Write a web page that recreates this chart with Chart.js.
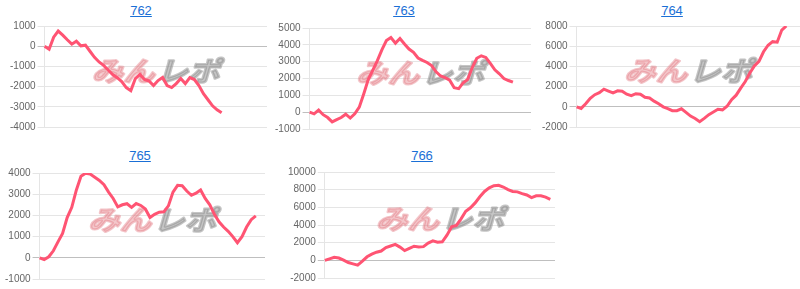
<!DOCTYPE html>
<html>
<head>
<meta charset="utf-8">
<script src="https://cdn.jsdelivr.net/npm/chart.js@4.4.1/dist/chart.umd.min.js"></script>
<style>
  body { margin: 0; background: #fff; width: 800px; height: 289px; overflow: hidden; position: relative; }
  .box { position: absolute; }
  .ttl { position: absolute; font: 13px "Liberation Sans", Arial, sans-serif; color: #1a6fd6; text-decoration: underline; transform: translateX(-50%); white-space: nowrap; }
</style>
</head>
<body>
<a class="ttl" style="left:141px;top:3px" href="#">762</a>
<a class="ttl" style="left:404px;top:3px" href="#">763</a>
<a class="ttl" style="left:672px;top:3px" href="#">764</a>
<a class="ttl" style="left:140px;top:148px" href="#">765</a>
<a class="ttl" style="left:422px;top:148px" href="#">766</a>

<div class="box" style="left:8px;top:18px;width:259px;height:117px"><canvas id="c762"></canvas></div>
<div class="box" style="left:273px;top:20px;width:258px;height:117px"><canvas id="c763"></canvas></div>
<div class="box" style="left:540px;top:18px;width:260px;height:117px"><canvas id="c764"></canvas></div>
<div class="box" style="left:3px;top:165px;width:262px;height:122px"><canvas id="c765"></canvas></div>
<div class="box" style="left:286px;top:164px;width:269px;height:122px"><canvas id="c766"></canvas></div>

<script>
// 50 slots along the (hidden) x axis, same for every machine
slots = [];
for (let i = 1; i <= 50; i++) slots.push(i);

const diff762 = [0, -150, 450, 750, 550, 320, 100, 250, 20, 50,
  -250, -550, -780, -950, -1180, -1400, -1560, -1750, -2050, -2200,
  -1600, -1400, -1650, -1720, -1950, -1700, -1550, -1950, -2050, -1850,
  -1600, -1850, -1550, -1650, -1950, -2350, -2650, -2950, -3150, -3300];

const diff763 = [0, -100, 120, -150, -320, -580, -440, -320, -120, -350,
  -100, 300, 1100, 1950, 2500, 3060, 3700, 4250, 4430, 4100,
  4380, 4050, 3750, 3550, 3220, 3080, 2950, 2770, 2400, 2150,
  2050, 1900, 1450, 1400, 1750, 1950, 2650, 3200, 3350, 3250,
  2900, 2520, 2280, 2000, 1880, 1780];

const diff764 = [0, -160, 300, 850, 1200, 1400, 1750, 1560, 1380, 1580,
  1550, 1250, 1100, 1300, 1250, 950, 880, 560, 300, 0,
  -180, -380, -380, -200, -550, -920, -1150, -1480, -1150, -780,
  -520, -250, -300, 50, 700, 1150, 1850, 2500, 3350, 4050,
  4500, 5450, 6100, 6450, 6400, 7600, 8000];

const diff765 = [0, -80, 50, 330, 750, 1150, 1900, 2380, 3200, 3850,
  3990, 3950, 3800, 3650, 3450, 3100, 2800, 2400, 2500, 2550,
  2380, 2560, 2470, 2300, 1900, 2050, 2150, 2170, 2450, 3100,
  3420, 3400, 3150, 2950, 3050, 3200, 2800, 2500, 2050, 1700,
  1450, 1250, 1000, 710, 1000, 1450, 1800, 1980];

const diff766 = [0, 170, 350, 260, 30, -250, -400, -550, -100, 400,
  700, 920, 1050, 1450, 1620, 1800, 1500, 1100, 1350, 1600,
  1500, 1550, 1950, 2200, 2050, 2100, 2850, 3800, 3950, 4700,
  5550, 5950, 6500, 7200, 7800, 8200, 8450, 8500, 8300, 8000,
  7800, 7750, 7550, 7400, 7100, 7300, 7300, 7150, 6900];

// y axis: min, max, step
const axis762 = [-4000, 1000, 1000];
const axis763 = [-1000, 5000, 1000];
const axis764 = [-2000, 8000, 2000];
const axis765 = [-1000, 4000, 1000];
const axis766 = [-2000, 10000, 2000];

Chart.defaults.font.family = '"Liberation Sans", Arial, sans-serif';
Chart.defaults.font.size = 10;
Chart.defaults.color = '#666';

// site logo behind the line
const logo = {
  id: 'logo',
  beforeDatasetsDraw(chart) {
    const a = chart.chartArea;
    const c = chart.ctx;
    c.save();
    c.font = 'italic bold 30px "Noto Sans CJK JP"';
    c.textBaseline = 'middle';
    const w1 = c.measureText('みん').width;
    const w2 = c.measureText('レポ').width;
    const gap = 2;
    const sx = 128 / (w1 + w2 + gap);
    const cx = (a.left + a.right) / 2;
    const cy = a.top + (a.bottom - a.top) * 0.44;
    c.translate(cx, cy);
    c.scale(sx, 0.9);
    const x0 = -(w1 + w2 + gap) / 2;
    c.lineJoin = 'round';
    c.lineWidth = 2.5;
    c.fillStyle = c.strokeStyle = 'rgba(226, 118, 128, 0.42)';
    c.strokeText('みん', x0, 0);
    c.fillText('みん', x0, 0);
    c.fillStyle = c.strokeStyle = 'rgba(140, 140, 140, 0.5)';
    c.strokeText('レポ', x0 + w1 + gap, 0);
    c.fillText('レポ', x0 + w1 + gap, 0);
    c.restore();
  }
};

function makeChart(id, values, ax) {
  ctx = document.getElementById(id);
  new Chart(ctx, {
    type: 'line',
    data: {
      labels: slots,
      datasets: [{
        data: values,
        borderColor: '#ff5473',
        borderWidth: 3,
        pointRadius: 0,
        tension: 0,
        fill: false
      }]
    },
    options: {
      responsive: true,
      maintainAspectRatio: false,
      animation: false,
      plugins: { legend: { display: false }, tooltip: { enabled: false } },
      layout: { padding: 0 },
      scales: {
        x: { display: false },
        y: {
          min: ax[0],
          max: ax[1],
          ticks: { stepSize: ax[2], padding: 2, callback: (v) => String(v) },
          border: { display: true, color: 'rgba(0,0,0,0.1)' },
          grid: {
            tickLength: 7,
            color: (c) => c.tick && c.tick.value === 0 ? 'rgba(0,0,0,0.25)' : 'rgba(0,0,0,0.1)'
          }
        }
      }
    },
    plugins: [logo]
  });
}

makeChart('c762', diff762, axis762);
makeChart('c763', diff763, axis763);
makeChart('c764', diff764, axis764);
makeChart('c765', diff765, axis765);
makeChart('c766', diff766, axis766);
</script>
</body>
</html>
